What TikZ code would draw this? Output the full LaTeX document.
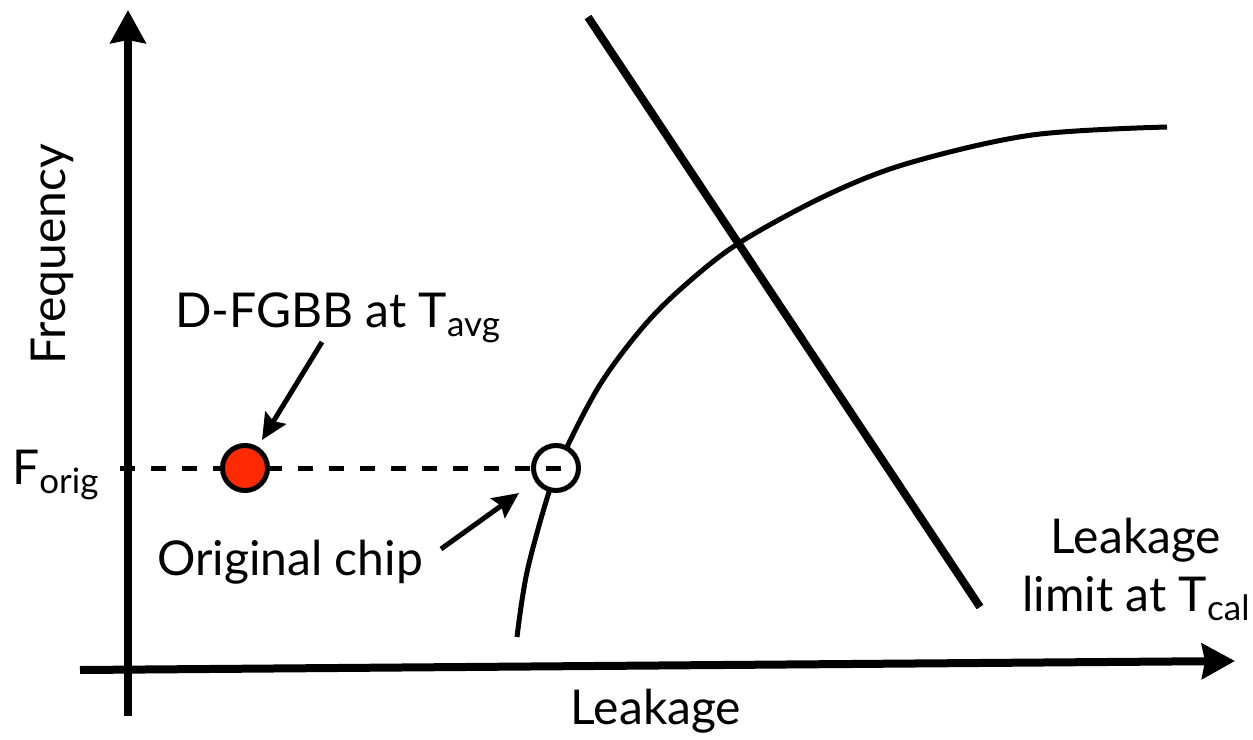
\documentclass[tikz,border=0pt]{standalone}
\usepackage{fontspec}
\setmainfont{Lato}
\usetikzlibrary{arrows.meta}
\definecolor{dotred}{HTML}{FF2A00}
\newcommand\lowsub[1]{\raisebox{-0.2em}{\fontsize{35}{37}\selectfont #1}}
\begin{document}
\begin{tikzpicture}[x=1pt,y=-1pt,
  lbl/.style={inner sep=0pt,font=\fontsize{48}{58}\selectfont},
  axis/.style={line width=8pt,-{Stealth[length=33pt,width=35pt,inset=3pt]}},
  pointer/.style={line width=5pt,-{Stealth[length=26pt,width=24pt,inset=4pt]}},
  dot/.style={circle,draw,line width=5pt,minimum size=45pt,inner sep=0pt}]
\useasboundingbox (0,0) rectangle (1253,739);

% frequency-leakage curve
\draw[line width=5pt] plot[smooth,tension=0.55] coordinates {(517,637) (527,572) (549,492) (567,447) (601,383) (643,327) (684,286) (739,243) (827,195) (909,163) (1032,135) (1167,127)};

% leakage limit line
\coordinate (limA) at (588,17);
\coordinate (limB) at (980,607);
\draw[line width=8pt] (limA) -- (limB);

% operating points
\node[dot,fill=dotred] (red) at (245,468) {};
\node[dot,fill=white] (orig) at (556,468) {};
\coordinate (fstart) at (120,468);
\draw[line width=5pt,dash pattern=on 15pt off 16pt] (fstart) -- (red.west);
\draw[line width=5pt,dash pattern=on 15pt off 16pt,dash phase=3pt] (red.east) -- (orig.east);

% axes
\coordinate (yb) at (128,716);
\coordinate (yt) at (128,10);
\coordinate (xl) at (80,670);
\coordinate (xr) at (1235,661);
\draw[axis] (yb) -- (yt);
\draw[axis] (xl) -- (xr);

% labels
\node[lbl,rotate=90] (freq) at (52,254) {Frequency};
\node[lbl,anchor=base] (leak) at (656,724) {Leakage};
\node[lbl,anchor=base west] (forig) at (12,484) {F\lowsub{orig}};
\node[lbl,anchor=base west] (dfgbb) at (175,327) {D-FGBB at T\lowsub{avg}};
\node[lbl,anchor=base west] (ochip) at (157,575) {Original chip};
\node[lbl,anchor=base] (limit1) at (1136,553) {Leakage};
\node[lbl,anchor=base] (limit2) at (1136,611) {limit at T\lowsub{cal}};

% pointers
\coordinate (pa) at (322,342);
\coordinate (ta) at (262,440);
\coordinate (pb) at (441,549);
\coordinate (tb) at (519,493);
\draw[pointer] (pa) -- (ta);
\draw[pointer] (pb) -- (tb);
\end{tikzpicture}
\end{document}
